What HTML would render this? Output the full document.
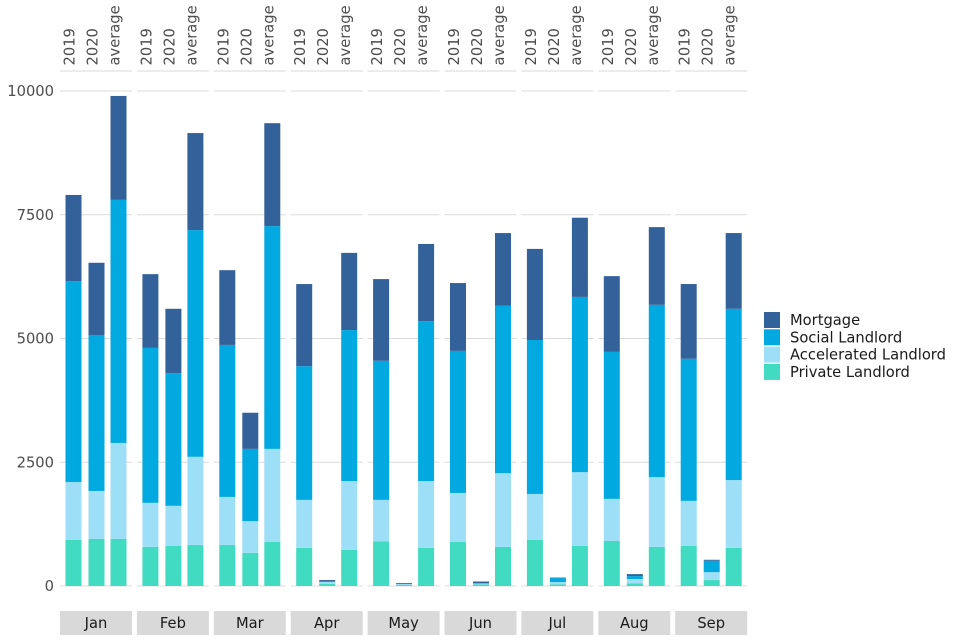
<!DOCTYPE html>
<html><head><meta charset="utf-8">
<style>
body{margin:0;background:#fff;}
svg{display:block;font-family:"DejaVu Sans","Liberation Sans",sans-serif;}
</style></head>
<body>
<svg id="chart" width="960" height="640" viewBox="0 0 960 640" xmlns="http://www.w3.org/2000/svg"></svg>
<script>
const months = ["Jan","Feb","Mar","Apr","May","Jun","Jul","Aug","Sep"];
const periods = ["2019","2020","average"];
const seriesNames = ["Private Landlord","Accelerated Landlord","Social Landlord","Mortgage"];
const colors = ["#40dbc0","#9ddff6","#00a9e0","#33619a"];
const yTicks = [0,2500,5000,7500,10000];
const yTickLabels = ["0","2500","5000","7500","10000"];
// per month: [2019, 2020, average] for each series
const privateLandlord = [[930,950,950],[790,810,830],[830,670,890],[770,40,730],[900,20,770],[890,30,790],[930,30,810],[910,50,790],[810,120,770]];
const acceleratedLandlord = [[1170,970,1940],[890,810,1780],[970,640,1880],[970,40,1390],[840,20,1350],[990,20,1490],[930,50,1490],[850,90,1410],[910,160,1370]];
const socialLandlord = [[4060,3150,4910],[3130,2680,4580],[3070,1460,4500],[2700,20,3050],[2810,10,3230],[2870,10,3380],[3110,80,3540],[2970,60,3480],[2870,230,3460]];
const mortgage = [[1740,1460,2100],[1490,1300,1960],[1510,730,2080],[1660,20,1560],[1650,10,1560],[1370,30,1470],[1840,10,1600],[1530,40,1570],[1510,20,1530]];
const seriesData = [privateLandlord, acceleratedLandlord, socialLandlord, mortgage];

const svg = document.getElementById('chart');
const NS = "http://www.w3.org/2000/svg";
function mk(tag, attrs, parent){const e=document.createElementNS(NS,tag);for(const k in attrs)e.setAttribute(k,attrs[k]);(parent||svg).appendChild(e);return e;}
const y0=586, pxPerUnit=495/10000;
function yScale(v){return y0 - v*pxPerUnit;}
const panelX0=60, panelW=72, panelStep=76.9;
function panelX(i){return panelX0 + i*panelStep;}
const barOffsets=[13,36,58], barW=16;
function barX(mi,pi){return panelX(mi)+barOffsets[pi]-barW/2+0.5;}
const FS=14.7;

yTicks.forEach((t,i)=>{
  const tx=mk('text',{x:54,y:yScale(t)+5,'text-anchor':'end','font-size':FS,fill:'#4d4d4d'});
  
  
  tx.textContent=yTickLabels[i];
});

months.forEach((m,mi)=>{
  const px=panelX(mi);
  const g=mk('g',{});
  
  
  yTicks.forEach(t=>{
    const l=mk('line',{x1:px,x2:px+panelW,y1:yScale(t),y2:yScale(t),stroke:'#dcdcdc','stroke-width':1},g);
    
    
  });
  const tl=mk('line',{x1:px,x2:px+panelW,y1:71,y2:71,stroke:'#d9d9d9','stroke-width':1},g);
  
  
  const r=mk('rect',{x:px,y:611,width:panelW,height:24,fill:'#d9d9d9'},g);
  
  
  const st=mk('text',{x:px+panelW/2,y:628,'text-anchor':'middle','font-size':FS,fill:'#1a1a1a'},g);
  
  
  st.textContent=m;
  periods.forEach((p,pi)=>{
    const cx=px+barOffsets[pi];
    const lt=mk('text',{x:0,y:0,transform:`translate(${cx+1.5},65.5) rotate(-90)`,'font-size':FS,fill:'#4d4d4d'},g);
    
    
    lt.textContent=p;
    let cum=0;
    seriesData.forEach((s,si)=>{
      const v=s[mi][pi];
      const b=mk('rect',{x:barX(mi,pi),y:yScale(cum+v),width:barW,height:Math.max(0,v*pxPerUnit),fill:colors[si]},g);
      
      
      cum+=v;
    });
  });
});

const lg=mk('g',{});


[3,2,1,0].forEach((si,k)=>{
  const y=312+k*17.3;
  const r=mk('rect',{x:764,y:y,width:16,height:16,fill:colors[si]},lg);
  
  
  const t=mk('text',{x:790,y:y+13,'font-size':FS,fill:'#1a1a1a'},lg);
  
  
  t.textContent=seriesNames[si];
});
</script>
</body></html>
